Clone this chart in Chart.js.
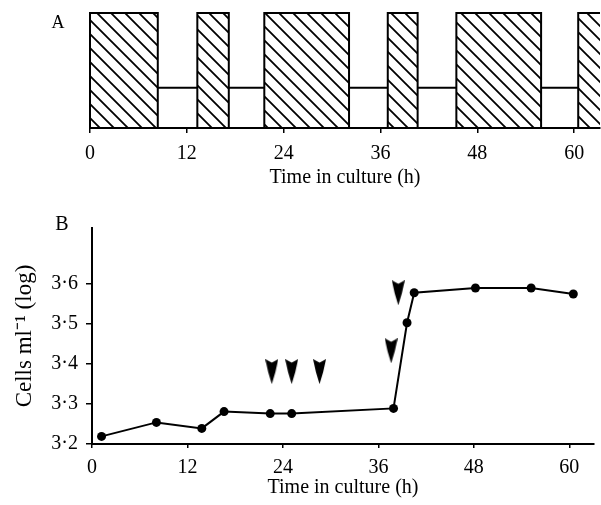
<!DOCTYPE html>
<html>
<head>
<meta charset="utf-8">
<script src="https://cdn.jsdelivr.net/npm/chart.js@4.4.1/dist/chart.umd.min.js"></script>
<style>
  html, body { margin: 0; padding: 0; background: #fff; }
  #wrap { position: relative; width: 601px; height: 505px; }
  canvas { position: absolute; left: 0; }
</style>
</head>
<body>
<div id="wrap">
  <canvas id="lightChart" width="601" height="190" style="top:0"></canvas>
  <canvas id="cellChart" width="601" height="315" style="top:190px"></canvas>
</div>
<script>
// Panel A: light periods (h)
const lightOn = [0, 13.3, 21.6, 36.9, 45.4, 60.5];
const lightOff = [8.4, 17.2, 32.1, 40.6, 55.9, 64];
const lightLevel = 1;
const darkLevel = 0.35;

// Panel B: cell counts
const hours = [1.2, 8.1, 13.8, 16.6, 22.4, 25.1, 37.9, 39.6, 40.5, 48.2, 55.2, 60.5];
const cells = [3.219, 3.254, 3.239, 3.281, 3.276, 3.276, 3.289, 3.503, 3.578, 3.590, 3.590, 3.575];

// arrowheads (additions)
const arrowHours = [22.6, 25.1, 28.6, 37.6, 38.5];
const arrowCells = [3.381, 3.381, 3.381, 3.433, 3.578];

const xTicks = [0, 12, 24, 36, 48, 60];
const yTicks = [3.2, 3.3, 3.4, 3.5, 3.6];

const serif = 'Liberation Serif';
const ink = '#000';

// hatch pattern for light boxes
function makeHatch() {
    const s = 14;
    const c = document.createElement('canvas');
    c.width = s; c.height = s;
    const g = c.getContext('2d');
    g.strokeStyle = ink;
    g.lineWidth = 1.8;
    g.beginPath();
    g.moveTo(-2, -2); g.lineTo(s + 2, s + 2);
    g.moveTo(-2, s - 2); g.lineTo(2, s + 2);
    g.moveTo(s - 2, -2); g.lineTo(s + 2, 2);
    g.stroke();
    return g.createPattern(c, 'repeat');
}

function makeArrow() {
    const w = 13, h = 25;
    const c = document.createElement('canvas');
    c.width = w; c.height = h;
    const g = c.getContext('2d');
    g.fillStyle = ink;
    g.beginPath();
    g.moveTo(0, 0);
    g.lineTo(w / 2, 3.5);
    g.lineTo(w, 0);
    g.quadraticCurveTo(w * 0.8, h * 0.55, w / 2, h);
    g.quadraticCurveTo(w * 0.2, h * 0.55, 0, 0);
    g.closePath();
    g.fill();
    return c;
}

const panelLabel = {
    id: 'panelLabel',
    afterDraw(chart, args, opts) {
        const ctx = chart.ctx;
        ctx.save();
        ctx.fillStyle = ink;
        ctx.font = opts.size + 'px "' + serif + '"';
        ctx.textAlign = 'center';
        ctx.textBaseline = 'middle';
        ctx.fillText(opts.text, opts.x, opts.y);
        ctx.restore();
    }
};

function fixTicks(list) {
    return scale => { scale.ticks = list.map(v => ({ value: v })); };
}

// build light boxes and dark bars
const boxPoints = [];
const darkPoints = [];
lightOn.forEach((on, i) => {
    const off = lightOff[i];
    boxPoints.push({ x: on, y: 0 }, { x: on, y: lightLevel }, { x: off, y: lightLevel }, { x: off, y: 0 }, { x: off, y: null });
    if (i < lightOn.length - 1) {
        darkPoints.push({ x: off, y: darkLevel }, { x: lightOn[i + 1], y: darkLevel }, { x: lightOn[i + 1], y: null });
    }
});

const tickFont = { family: serif, size: 20 };

new Chart(document.getElementById('lightChart'), {
    type: 'line',
    data: {
        datasets: [
            {
                data: boxPoints,
                borderColor: ink,
                borderWidth: 2,
                backgroundColor: makeHatch(),
                fill: 'origin',
                pointRadius: 0,
                spanGaps: false,
                tension: 0,
                clip: { left: 4, top: 4, right: 0, bottom: 4 }
            },
            {
                data: darkPoints,
                borderColor: ink,
                borderWidth: 2,
                pointRadius: 0,
                spanGaps: false,
                fill: false
            }
        ]
    },
    options: {
        responsive: false,
        animation: false,
        devicePixelRatio: 1,
        layout: { padding: { left: 90, top: 13, right: 1, bottom: 0 } },
        plugins: {
            legend: { display: false },
            tooltip: { enabled: false },
            panelLabel: { text: 'A', x: 58, y: 23, size: 18 }
        },
        scales: {
            x: {
                type: 'linear',
                min: 0,
                max: 63.2,
                afterBuildTicks: fixTicks(xTicks),
                afterFit: s => { s.height = 62; },
                grid: { drawOnChartArea: false, drawTicks: true, tickLength: 5, color: ink, lineWidth: 1.5 },
                border: { display: true, color: ink, width: 2 },
                ticks: { color: ink, font: tickFont, padding: 9, maxRotation: 0 },
                title: { display: true, text: 'Time in culture (h)', color: ink, font: tickFont, padding: { top: 0, bottom: 0 } }
            },
            y: { type: 'linear', display: false, min: 0, max: 1 }
        }
    },
    plugins: [panelLabel]
});

new Chart(document.getElementById('cellChart'), {
    type: 'line',
    data: {
        datasets: [
            {
                data: hours.map((h, i) => ({ x: h, y: cells[i] })),
                borderColor: ink,
                borderWidth: 2,
                pointRadius: 4.5,
                pointBackgroundColor: ink,
                pointBorderColor: ink,
                pointBorderWidth: 0,
                tension: 0,
                fill: false
            },
            {
                data: arrowHours.map((h, i) => ({ x: h, y: arrowCells[i] })),
                showLine: false,
                pointStyle: makeArrow(),
                pointRadius: 6
            }
        ]
    },
    options: {
        responsive: false,
        animation: false,
        devicePixelRatio: 1,
        layout: { padding: { left: 0, top: 38, right: 1, bottom: 0 } },
        plugins: {
            legend: { display: false },
            tooltip: { enabled: false },
            panelLabel: { text: 'B', x: 62, y: 35, size: 20 }
        },
        scales: {
            x: {
                type: 'linear',
                min: 0,
                max: 63.1,
                afterBuildTicks: fixTicks(xTicks),
                afterFit: s => { s.height = 61; },
                grid: { drawOnChartArea: false, drawTicks: true, tickLength: 4, color: ink, lineWidth: 1.5 },
                border: { display: true, color: ink, width: 2 },
                ticks: { color: ink, font: tickFont, padding: 8, maxRotation: 0 },
                title: { display: true, text: 'Time in culture (h)', color: ink, font: tickFont, padding: { top: 0, bottom: 5 } }
            },
            y: {
                type: 'linear',
                min: 3.2,
                max: 3.74,
                afterBuildTicks: fixTicks(yTicks),
                afterFit: s => { s.width = 92; },
                grid: { drawOnChartArea: false, drawTicks: true, tickLength: 6, color: ink, lineWidth: 1.5 },
                border: { display: true, color: ink, width: 2 },
                ticks: {
                    color: ink,
                    font: tickFont,
                    padding: 8,
                    callback: v => v.toFixed(1).replace('.', '·')
                },
                title: { display: true, text: 'Cells ml⁻¹ (log)', color: ink, font: { family: serif, size: 23 }, padding: { top: 11, bottom: 0 } }
            }
        }
    },
    plugins: [panelLabel]
});
</script>
</body>
</html>
